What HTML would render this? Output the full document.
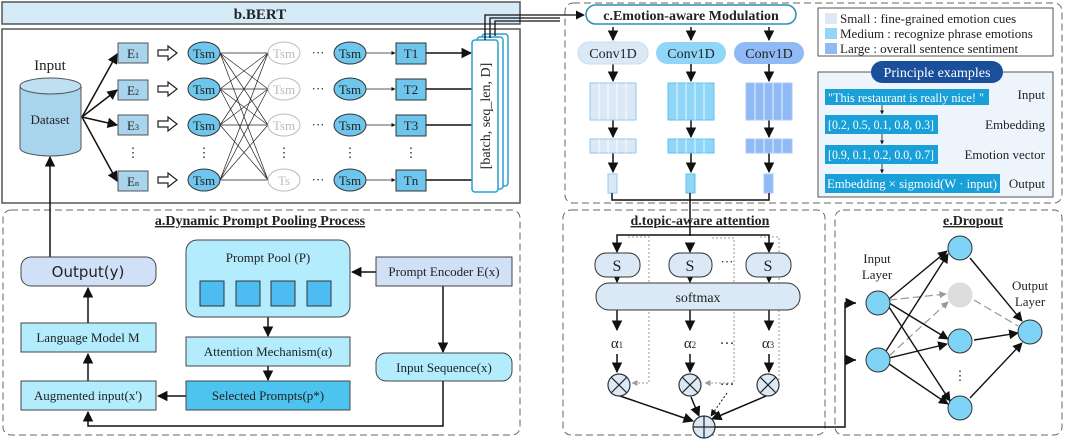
<!DOCTYPE html>
<html><head><meta charset="utf-8"><style>
body{margin:0;background:#fff}
svg{display:block}
text{font-family:"Liberation Serif",serif;fill:#222}
</style></head><body>
<svg width="1065" height="439" viewBox="0 0 1065 439" xmlns="http://www.w3.org/2000/svg">
<defs>
<marker id="ah" viewBox="0 0 10 10" refX="9" refY="5" markerWidth="7" markerHeight="7" orient="auto-start-reverse"><path d="M0,0L10,5L0,10z" fill="#111"/></marker>
<marker id="as" viewBox="0 0 10 10" refX="9" refY="5" markerWidth="5" markerHeight="5" orient="auto"><path d="M0,0L10,5L0,10z" fill="#111"/></marker>
<marker id="ag" viewBox="0 0 10 10" refX="9" refY="5" markerWidth="6" markerHeight="6" orient="auto"><path d="M0,0L10,5L0,10z" fill="#999"/></marker>
</defs>

<!-- b.BERT -->
<rect x="2" y="2" width="518" height="22" fill="#d5ecf8" stroke="#555" stroke-width="1.5"/>
<text x="260" y="19" font-size="15" font-weight="bold" text-anchor="middle">b.BERT</text>
<rect x="2" y="29" width="518" height="174" fill="#fff" stroke="#555" stroke-width="1.5"/>
<text x="50" y="70" font-size="15" text-anchor="middle">Input</text>
<path d="M20,86 L20,148 A30.5,8 0 0 0 81,148 L81,86" fill="#a8d4ee" stroke="#555"/>
<ellipse cx="50.5" cy="86" rx="30.5" ry="8" fill="#bfe0f3" stroke="#555"/>
<text x="50" y="124" font-size="13" text-anchor="middle">Dataset</text>
<g stroke="#111" stroke-width="1.5" fill="none">
<line x1="82" y1="117" x2="117" y2="54" marker-end="url(#ah)"/>
<line x1="82" y1="117" x2="117" y2="90" marker-end="url(#ah)"/>
<line x1="82" y1="117" x2="117" y2="125" marker-end="url(#ah)"/>
<line x1="82" y1="117" x2="117" y2="181" marker-end="url(#ah)"/>
</g>
<g fill="#a8d4ee" stroke="#555">
<rect x="118" y="43" width="30" height="20"/><rect x="118" y="80" width="30" height="20"/>
<rect x="118" y="115" width="30" height="20"/><rect x="118" y="171" width="30" height="20"/>
</g>
<g font-size="13" text-anchor="middle"><text x="133" y="58">E<tspan font-size="8">1</tspan></text><text x="133" y="95">E<tspan font-size="8">2</tspan></text><text x="133" y="130">E<tspan font-size="8">3</tspan></text><text x="133" y="186">E<tspan font-size="8">n</tspan></text></g>
<g fill="#fff" stroke="#222" stroke-width="1.2">
<path d="M158,50h10v-4l9,7l-9,7v-4h-10z"/><path d="M158,86h10v-4l9,7l-9,7v-4h-10z"/>
<path d="M158,121h10v-4l9,7l-9,7v-4h-10z"/><path d="M158,177h10v-4l9,7l-9,7v-4h-10z"/>
</g>
<g stroke="#222" stroke-width="0.7">
<line x1="220" y1="53" x2="268" y2="53"/><line x1="220" y1="53" x2="268" y2="89"/><line x1="220" y1="53" x2="268" y2="125"/><line x1="220" y1="53" x2="268" y2="180"/>
<line x1="220" y1="89" x2="268" y2="53"/><line x1="220" y1="89" x2="268" y2="89"/><line x1="220" y1="89" x2="268" y2="125"/><line x1="220" y1="89" x2="268" y2="180"/>
<line x1="220" y1="125" x2="268" y2="53"/><line x1="220" y1="125" x2="268" y2="89"/><line x1="220" y1="125" x2="268" y2="125"/><line x1="220" y1="125" x2="268" y2="180"/>
<line x1="220" y1="180" x2="268" y2="53"/><line x1="220" y1="180" x2="268" y2="89"/><line x1="220" y1="180" x2="268" y2="125"/><line x1="220" y1="180" x2="268" y2="180"/>
</g>
<g fill="#6ec6ec" stroke="#333">
<ellipse cx="204" cy="53" rx="16" ry="11"/><ellipse cx="204" cy="89" rx="16" ry="11"/><ellipse cx="204" cy="125" rx="16" ry="11"/><ellipse cx="204" cy="180" rx="16" ry="11"/>
<ellipse cx="350" cy="53" rx="16" ry="11"/><ellipse cx="350" cy="89" rx="16" ry="11"/><ellipse cx="350" cy="125" rx="16" ry="11"/><ellipse cx="350" cy="180" rx="16" ry="11"/>
</g>
<g fill="#fff" stroke="#bbb">
<ellipse cx="284" cy="53" rx="16" ry="11"/><ellipse cx="284" cy="89" rx="16" ry="11"/><ellipse cx="284" cy="125" rx="16" ry="11"/><ellipse cx="284" cy="180" rx="16" ry="11"/>
</g>
<g font-size="13" text-anchor="middle">
<text x="204" y="58">Tsm</text><text x="204" y="94">Tsm</text><text x="204" y="130">Tsm</text><text x="204" y="185">Tsm</text>
<text x="350" y="58">Tsm</text><text x="350" y="94">Tsm</text><text x="350" y="130">Tsm</text><text x="350" y="185">Tsm</text>
<text x="284" y="58" style="fill:#bbb">Tsm</text><text x="284" y="94" style="fill:#bbb">Tsm</text><text x="284" y="130" style="fill:#bbb">Tsm</text><text x="284" y="185" style="fill:#bbb">Ts</text>
<text x="318" y="57">···</text><text x="318" y="93">···</text><text x="318" y="129">···</text><text x="318" y="184">···</text>
<text x="133" y="157">⋮</text><text x="204" y="157">⋮</text><text x="284" y="157">⋮</text><text x="350" y="157">⋮</text><text x="411" y="157">⋮</text>
</g>
<g stroke="#222" stroke-width="0.8"><line x1="366" y1="53" x2="395" y2="53" marker-end="url(#as)"/><line x1="366" y1="89" x2="395" y2="89" marker-end="url(#as)"/><line x1="366" y1="125" x2="395" y2="125" marker-end="url(#as)"/><line x1="366" y1="180" x2="395" y2="180" marker-end="url(#as)"/></g>
<g fill="#6ec6ec" stroke="#333">
<rect x="396" y="43" width="30" height="21"/><rect x="396" y="79" width="30" height="21"/><rect x="396" y="115" width="30" height="21"/><rect x="396" y="170" width="30" height="21"/>
</g>
<g font-size="13" text-anchor="middle"><text x="411" y="58">T1</text><text x="411" y="94">T2</text><text x="411" y="130">T3</text><text x="411" y="185">Tn</text></g>
<g stroke="#111" stroke-width="1.5"><line x1="426" y1="53" x2="471" y2="53" marker-end="url(#ah)"/><line x1="426" y1="89" x2="472" y2="89"/><line x1="426" y1="125" x2="472" y2="125"/><line x1="426" y1="180" x2="472" y2="180"/></g>
<g fill="#fff" stroke="#2a9fd0" stroke-width="1.5">
<rect x="482" y="34" width="26" height="152" rx="3"/><rect x="477" y="37" width="26" height="152" rx="3"/><rect x="472" y="40" width="26" height="152" rx="3"/>
</g>
<text font-size="14" text-anchor="middle" transform="translate(490,116) rotate(-90)">[batch, seq_len, D]</text>
<g stroke="#111" stroke-width="1.3" fill="none">
<path d="M485,40V15H560"/><path d="M490,38V18H560"/><path d="M495,36V21H560"/>
<line x1="560" y1="15" x2="584" y2="15" marker-end="url(#ah)"/>
</g>

<!-- c -->
<rect x="565" y="3" width="497" height="200" rx="8" fill="none" stroke="#666" stroke-dasharray="7,4"/>
<rect x="586" y="5" width="210" height="19" rx="9.5" fill="#fff" stroke="#2a8fb0" stroke-width="1.5"/>
<text x="691" y="20" font-size="14" font-weight="bold" text-anchor="middle">c.Emotion-aware Modulation</text>
<g stroke="#111" stroke-width="1.5">
<line x1="613" y1="27" x2="613" y2="40" marker-end="url(#ah)"/><line x1="691" y1="27" x2="691" y2="40" marker-end="url(#ah)"/><line x1="769" y1="27" x2="769" y2="40" marker-end="url(#ah)"/>
<line x1="613" y1="64" x2="613" y2="81" marker-end="url(#ah)"/><line x1="691" y1="64" x2="691" y2="81" marker-end="url(#ah)"/><line x1="769" y1="64" x2="769" y2="81" marker-end="url(#ah)"/>
<line x1="613" y1="120" x2="613" y2="137" marker-end="url(#ah)"/><line x1="691" y1="120" x2="691" y2="137" marker-end="url(#ah)"/><line x1="769" y1="120" x2="769" y2="137" marker-end="url(#ah)"/>
<line x1="613" y1="153" x2="613" y2="172" marker-end="url(#ah)"/><line x1="691" y1="153" x2="691" y2="172" marker-end="url(#ah)"/><line x1="769" y1="153" x2="769" y2="172" marker-end="url(#ah)"/>
</g>
<rect x="578" y="42" width="70" height="22" rx="11" fill="#dbe9f7" stroke="#c5ddf0"/>
<rect x="656" y="42" width="70" height="22" rx="11" fill="#8fd6f8"/>
<rect x="734" y="42" width="70" height="22" rx="11" fill="#8fbaf5"/>
<g font-size="14" text-anchor="middle"><text x="613" y="58">Conv1D</text><text x="691" y="58">Conv1D</text><text x="769" y="58">Conv1D</text></g>
<g stroke-width="1">
<g fill="#dbe9f7" stroke="#8fc8f0"><rect x="590" y="83" width="46" height="37"/><rect x="590" y="139" width="46" height="14"/><rect x="608" y="174" width="9" height="19"/></g>
<g fill="#8fd6f8" stroke="#5cc0ee"><rect x="668" y="83" width="46" height="37"/><rect x="668" y="139" width="46" height="14"/><rect x="686" y="174" width="9" height="19"/></g>
<g fill="#8fbaf5" stroke="#a8c8f8"><rect x="746" y="83" width="46" height="37"/><rect x="746" y="139" width="46" height="14"/><rect x="764" y="174" width="9" height="19"/></g>
<g stroke="#fff" stroke-opacity="0.8"><path d="M599,83v37M608,83v37M617,83v37M626,83v37M677,83v37M686,83v37M695,83v37M704,83v37M755,83v37M764,83v37M773,83v37M782,83v37M599,139v14M608,139v14M617,139v14M626,139v14M677,139v14M686,139v14M695,139v14M704,139v14M755,139v14M764,139v14M773,139v14M782,139v14"/></g>
</g>
<path d="M612,193V200H769V193M690,193V236" stroke="#111" stroke-width="1.5" fill="none"/>
<rect x="818" y="8" width="235" height="48" fill="#fff" stroke="#555"/>
<rect x="825" y="13" width="12" height="11" fill="#dbe9f7"/><rect x="825" y="28" width="12" height="11" fill="#8fd6f8"/><rect x="825" y="43" width="12" height="11" fill="#8fbaf5"/>
<g font-size="13"><text x="840" y="23">Small : fine-grained emotion cues</text><text x="840" y="38">Medium : recognize phrase emotions</text><text x="840" y="53">Large : overall sentence sentiment</text></g>
<rect x="818" y="72" width="235" height="125" fill="#eef4fb" stroke="#555"/>
<rect x="871" y="61" width="132" height="22" rx="11" fill="#1a4f9b"/>
<text x="937" y="77" font-size="14" text-anchor="middle" style="fill:#fff">Principle examples</text>
<g fill="#1aa0d8"><rect x="825" y="89" width="164" height="16"/><rect x="825" y="115" width="113" height="19"/><rect x="825" y="145" width="113" height="19"/><rect x="825" y="174" width="175" height="19"/></g>
<g font-size="13"><text x="828" y="102" textLength="156" lengthAdjust="spacingAndGlyphs" style="fill:#fff">"This restaurant is really nice!  "</text><text x="828" y="129" textLength="106" lengthAdjust="spacingAndGlyphs" style="fill:#fff">[0.2, 0.5, 0.1, 0.8, 0.3]</text><text x="828" y="159" textLength="106" lengthAdjust="spacingAndGlyphs" style="fill:#fff">[0.9, 0.1, 0.2, 0.0, 0.7]</text><text x="827" y="188" textLength="170" lengthAdjust="spacingAndGlyphs" style="fill:#fff">Embedding × sigmoid(W · input)</text></g>
<g font-size="13" text-anchor="end"><text x="1045" y="99">Input</text><text x="1045" y="129">Embedding</text><text x="1045" y="159">Emotion vector</text><text x="1045" y="188">Output</text></g>
<g stroke="#111" stroke-width="0.8"><line x1="882" y1="105" x2="882" y2="114" marker-end="url(#as)"/><line x1="882" y1="134" x2="882" y2="144" marker-end="url(#as)"/><line x1="882" y1="164" x2="882" y2="173" marker-end="url(#as)"/></g>

<!-- a -->
<rect x="3" y="210" width="517" height="225" rx="8" fill="none" stroke="#666" stroke-dasharray="7,4"/>
<text x="260" y="225" font-size="14" font-weight="bold" text-anchor="middle" text-decoration="underline">a.Dynamic Prompt Pooling Process</text>
<g stroke="#111" stroke-width="1.5" fill="none">
<line x1="50" y1="257" x2="50" y2="157" marker-end="url(#ah)"/>
<line x1="88" y1="323" x2="88" y2="288" marker-end="url(#ah)"/>
<line x1="88" y1="381" x2="88" y2="354" marker-end="url(#ah)"/>
<line x1="186" y1="396" x2="158" y2="396" marker-end="url(#ah)"/>
<line x1="268" y1="317" x2="268" y2="336" marker-end="url(#ah)"/>
<line x1="268" y1="366" x2="268" y2="380" marker-end="url(#ah)"/>
<line x1="376" y1="272" x2="352" y2="272" marker-end="url(#ah)"/>
<line x1="443" y1="286" x2="443" y2="352" marker-end="url(#ah)"/>
<path d="M443,381V426H88V412" marker-end="url(#ah)"/>
</g>
<rect x="21" y="257" width="135" height="29" rx="10" fill="#cfe0f7" stroke="#444"/>
<text x="88" y="277" font-size="15" text-anchor="middle" style="font-family:'DejaVu Sans',sans-serif">Output(y)</text>
<rect x="21" y="323" width="135" height="29" fill="#b3ecfc" stroke="#444"/>
<text x="88" y="342" font-size="13" text-anchor="middle">Language Model M</text>
<rect x="21" y="381" width="135" height="29" fill="#b3ecfc" stroke="#444"/>
<text x="88" y="400" font-size="13" text-anchor="middle">Augmented input(x')</text>
<rect x="186" y="240" width="164" height="77" rx="11" fill="#b3ecfc" stroke="#444"/>
<text x="268" y="262" font-size="13" text-anchor="middle">Prompt Pool (P)</text>
<g fill="#4dbcf0" stroke="#333"><rect x="200" y="281" width="24" height="25"/><rect x="236" y="281" width="24" height="25"/><rect x="271" y="281" width="24" height="25"/><rect x="307" y="281" width="24" height="25"/></g>
<rect x="186" y="337" width="164" height="29" fill="#b3ecfc" stroke="#444"/>
<text x="268" y="356" font-size="13" text-anchor="middle">Attention Mechanism(α)</text>
<rect x="186" y="381" width="164" height="29" fill="#4dc3f0" stroke="#444"/>
<text x="268" y="400" font-size="13" text-anchor="middle">Selected Prompts(p*)</text>
<rect x="376" y="257" width="136" height="29" fill="#cfe0f7" stroke="#444"/>
<text x="444" y="276" font-size="13" text-anchor="middle">Prompt Encoder E(x)</text>
<rect x="376" y="353" width="136" height="28" rx="10" fill="#b3ecfc" stroke="#444"/>
<text x="444" y="372" font-size="13" text-anchor="middle">Input Sequence(x)</text>

<!-- d -->
<rect x="563" y="210" width="262" height="225" rx="8" fill="none" stroke="#666" stroke-dasharray="7,4"/>
<text x="700" y="225" font-size="14" font-weight="bold" text-anchor="middle" text-decoration="underline">d.topic-aware attention</text>
<g stroke="#999" stroke-width="1" stroke-dasharray="2,2" fill="none">
<path d="M628,237H649V383H632" marker-end="url(#ag)"/>
<path d="M712,238H734V383H705" marker-end="url(#ag)"/>
<path d="M760,237H779V383H771" marker-end="url(#ag)"/>
</g>
<g stroke="#111" stroke-width="1.5" fill="none">
<path d="M617,250V235H769V250"/><line x1="617" y1="245" x2="617" y2="252" marker-end="url(#ah)"/><line x1="690" y1="245" x2="690" y2="252" marker-end="url(#ah)"/><line x1="769" y1="245" x2="769" y2="252" marker-end="url(#ah)"/>
<line x1="617" y1="277" x2="617" y2="282" marker-end="url(#ah)"/><line x1="690" y1="277" x2="690" y2="282" marker-end="url(#ah)"/><line x1="769" y1="277" x2="769" y2="282" marker-end="url(#ah)"/>
<line x1="617" y1="310" x2="617" y2="330" marker-end="url(#ah)"/><line x1="690" y1="310" x2="690" y2="330" marker-end="url(#ah)"/><line x1="769" y1="310" x2="769" y2="330" marker-end="url(#ah)"/>
<line x1="617" y1="354" x2="617" y2="372" marker-end="url(#ah)"/><line x1="690" y1="354" x2="690" y2="372" marker-end="url(#ah)"/><line x1="769" y1="354" x2="769" y2="372" marker-end="url(#ah)"/>
<line x1="620" y1="396" x2="693" y2="421" marker-end="url(#ah)"/><line x1="691" y1="397" x2="699" y2="416" marker-end="url(#ah)"/><line x1="766" y1="396" x2="712" y2="419" marker-end="url(#ah)"/>
</g>
<line x1="727" y1="393" x2="711" y2="416" stroke="#111" stroke-dasharray="2,2" marker-end="url(#ah)"/>
<g fill="#dbe9f7" stroke="#333">
<rect x="595" y="253" width="45" height="24" rx="11"/><rect x="669" y="253" width="43" height="24" rx="11"/><rect x="746" y="253" width="45" height="24" rx="11"/>
<rect x="596" y="283" width="204" height="27" rx="13"/>
</g>
<g font-size="16" text-anchor="middle"><text x="617" y="271">S</text><text x="690" y="271">S</text><text x="768" y="271">S</text></g>
<text x="727" y="266" font-size="13" text-anchor="middle">···</text>
<text x="698" y="302" font-size="14" text-anchor="middle">softmax</text>
<g font-size="15" text-anchor="middle"><text x="617" y="348">α<tspan font-size="9">1</tspan></text><text x="690" y="348">α<tspan font-size="9">2</tspan></text><text x="768" y="348">α<tspan font-size="9">3</tspan></text><text x="727" y="348">···</text><text x="727" y="389">···</text></g>
<g fill="#dbe9f7" stroke="#333" stroke-width="1.2">
<circle cx="619" cy="385" r="11"/><circle cx="690" cy="385" r="11"/><circle cx="768" cy="385" r="11"/><circle cx="704" cy="427" r="11"/>
<path d="M611,377l16,16M627,377l-16,16M682,377l16,16M698,377l-16,16M760,377l16,16M776,377l-16,16M693,427h22M704,416v22" stroke="#222"/>
</g>
<path d="M715,427H845V303H856M845,360H856" stroke="#111" stroke-width="1.5" fill="none"/>
<line x1="845" y1="303" x2="855" y2="303" stroke="#111" stroke-width="1.5" marker-end="url(#ah)"/>
<line x1="845" y1="360" x2="855" y2="360" stroke="#111" stroke-width="1.5" marker-end="url(#ah)"/>

<!-- e -->
<rect x="835" y="210" width="227" height="225" rx="8" fill="none" stroke="#666" stroke-dasharray="7,4"/>
<text x="973" y="225" font-size="14" font-weight="bold" text-anchor="middle" text-decoration="underline">e.Dropout</text>
<text x="877" y="263" font-size="13" text-anchor="middle">Input</text><text x="877" y="279" font-size="13" text-anchor="middle">Layer</text>
<text x="1030" y="290" font-size="13" text-anchor="middle">Output</text><text x="1030" y="306" font-size="13" text-anchor="middle">Layer</text>
<g stroke="#999" stroke-width="1.2" stroke-dasharray="8,4" fill="none">
<line x1="889" y1="300" x2="946" y2="294" marker-end="url(#ag)"/><line x1="889" y1="356" x2="948" y2="302" marker-end="url(#ag)"/><line x1="974" y1="300" x2="1018" y2="326"/>
</g>
<g stroke="#111" stroke-width="1.4">
<line x1="889" y1="299" x2="947" y2="251" marker-end="url(#ah)"/><line x1="889" y1="303" x2="948" y2="339" marker-end="url(#ah)"/><line x1="889" y1="307" x2="950" y2="401" marker-end="url(#ah)"/>
<line x1="886" y1="351" x2="948" y2="254" marker-end="url(#ah)"/><line x1="889" y1="358" x2="947" y2="344" marker-end="url(#ah)"/><line x1="889" y1="364" x2="948" y2="404" marker-end="url(#ah)"/>
<line x1="970" y1="258" x2="1022" y2="321" marker-end="url(#ah)"/><line x1="974" y1="340" x2="1018" y2="333" marker-end="url(#ah)"/><line x1="970" y1="398" x2="1022" y2="343" marker-end="url(#ah)"/>
</g>
<g fill="#7fd3f5" stroke="#333">
<circle cx="878" cy="303" r="12"/><circle cx="878" cy="360" r="12"/>
<circle cx="960" cy="248" r="12"/><circle cx="960" cy="341" r="12"/><circle cx="960" cy="408" r="12"/>
<circle cx="1030" cy="332" r="12"/>
</g>
<circle cx="960" cy="295" r="12" fill="#ddd" stroke="#ddd"/>
<text x="960" y="380" font-size="13" text-anchor="middle">⋮</text>
</svg>
</body></html>
